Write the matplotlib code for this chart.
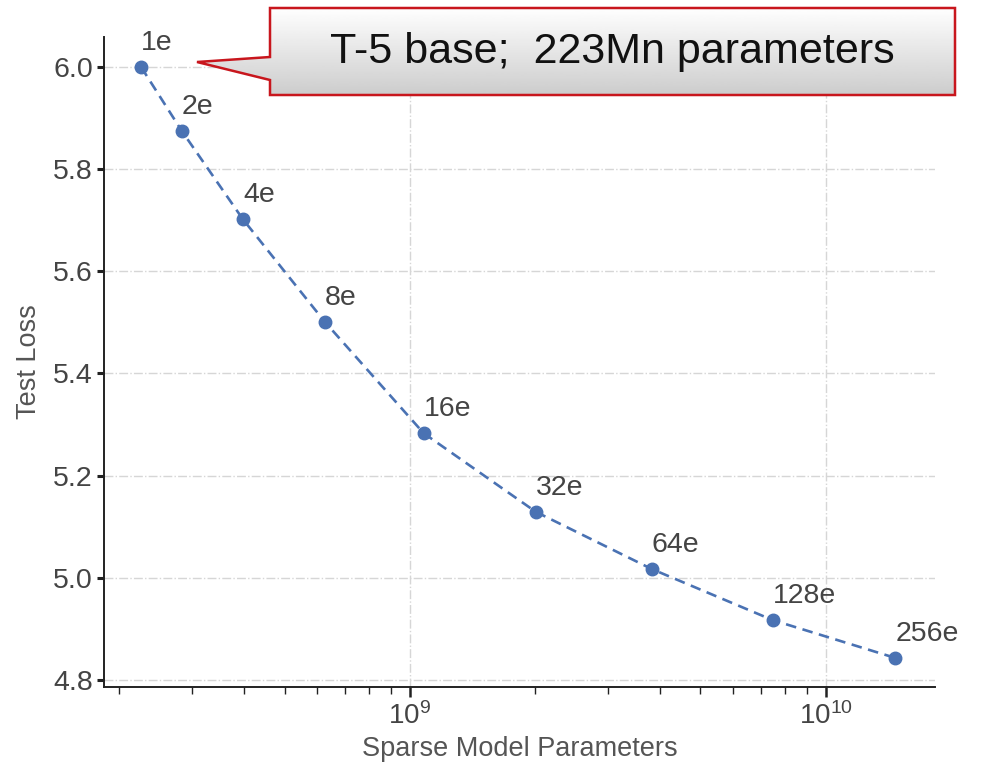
import matplotlib
matplotlib.use("Agg")
import matplotlib.pyplot as plt
import numpy as np
from matplotlib.patches import Polygon
from matplotlib.ticker import LogLocator, FixedLocator

plt.rcParams['font.family'] = ['Liberation Sans', 'DejaVu Sans']
plt.rcParams['mathtext.fontset'] = 'custom'
plt.rcParams['mathtext.rm'] = 'Liberation Sans'
plt.rcParams['mathtext.it'] = 'Liberation Sans'

# data
experts = ["1e", "2e", "4e", "8e", "16e", "32e", "64e", "128e", "256e"]
params = [2.26e8, 2.83e8, 3.97e8, 6.25e8, 1.08e9, 2.01e9, 3.82e9, 7.46e9, 1.47e10]
test_loss = [6.0, 5.875, 5.702, 5.501, 5.283, 5.129, 5.017, 4.917, 4.843]
yticks = [4.8, 5.0, 5.2, 5.4, 5.6, 5.8, 6.0]
callout_text = "T-5 base;  223Mn parameters"

blue = "#4a72b3"
txt = "#444444"

fig = plt.figure(figsize=(9.86, 7.64), dpi=100)
ax = fig.add_axes([0.1055, 0.1008, 0.8425, 0.8508])

ax.plot(params, test_loss, ls="--", color=blue, lw=1.9, dashes=(4, 2.5),
        marker="o", ms=9, zorder=3)
for lab, x, y in zip(experts, params, test_loss):
    ax.annotate(lab, (x, y), xytext=(0, 8), textcoords="offset points",
                ha="left", va="bottom", fontsize=20.5, color=txt)

ax.set_xscale("log")
ax.set_xlim(1.84e8, 1.83e10)
ax.set_ylim(4.786, 6.059)
ax.yaxis.set_major_locator(FixedLocator(yticks))
ax.set_yticklabels([f"{v:.1f}" for v in yticks])
ax.xaxis.set_major_locator(LogLocator(base=10, numticks=10))
ax.xaxis.set_minor_locator(LogLocator(base=10, subs=np.arange(2, 10), numticks=20))

ax.grid(True, which="major", color="#d6d6d6", ls="-.", lw=1.0)
ax.set_axisbelow(True)
for s in ["top", "right"]:
    ax.spines[s].set_visible(False)
for s in ["left", "bottom"]:
    ax.spines[s].set_linewidth(1.4)
    ax.spines[s].set_color("#222222")

ax.tick_params(axis="y", direction="out", length=5, width=2.2, colors="#222222",
               labelcolor=txt, labelsize=20.5, pad=3)
ax.tick_params(axis="x", which="major", direction="out", length=7, width=1.8,
               colors="#222222", labelcolor=txt, labelsize=20, pad=4)
ax.tick_params(axis="x", which="minor", direction="out", length=5, width=1.0,
               colors="#222222")

ax.set_xlabel("Sparse Model Parameters", fontsize=19.5, color="#555555", labelpad=4)
ax.set_ylabel("Test Loss", fontsize=19.5, color="#555555", labelpad=8)

# callout box in pixel coordinates of the figure
ov = fig.add_axes([0, 0, 1, 1], zorder=10)
ov.axis("off")
ov.patch.set_alpha(0)
pts = [(270, 8), (955, 8), (955, 95), (270, 95), (270, 80), (197, 62), (270, 57)]
poly = Polygon(pts, closed=True, facecolor="none", edgecolor="#c8161d", lw=1.8, zorder=3)
ov.add_patch(poly)
grad = np.linspace(1.0, 0.80, 100).reshape(-1, 1)
im = ov.imshow(grad, cmap="gray", vmin=0, vmax=1, extent=(195, 956, 96, 7),
               aspect="auto", zorder=2)
im.set_clip_path(poly)
ov.set_xlim(0, 986)
ov.set_ylim(764, 0)
ov.text(612, 52, callout_text, ha="center", va="center", fontsize=31,
        color="#111111", family=["Liberation Sans Narrow", "Liberation Sans"])

fig.savefig("out.png", dpi=100)
